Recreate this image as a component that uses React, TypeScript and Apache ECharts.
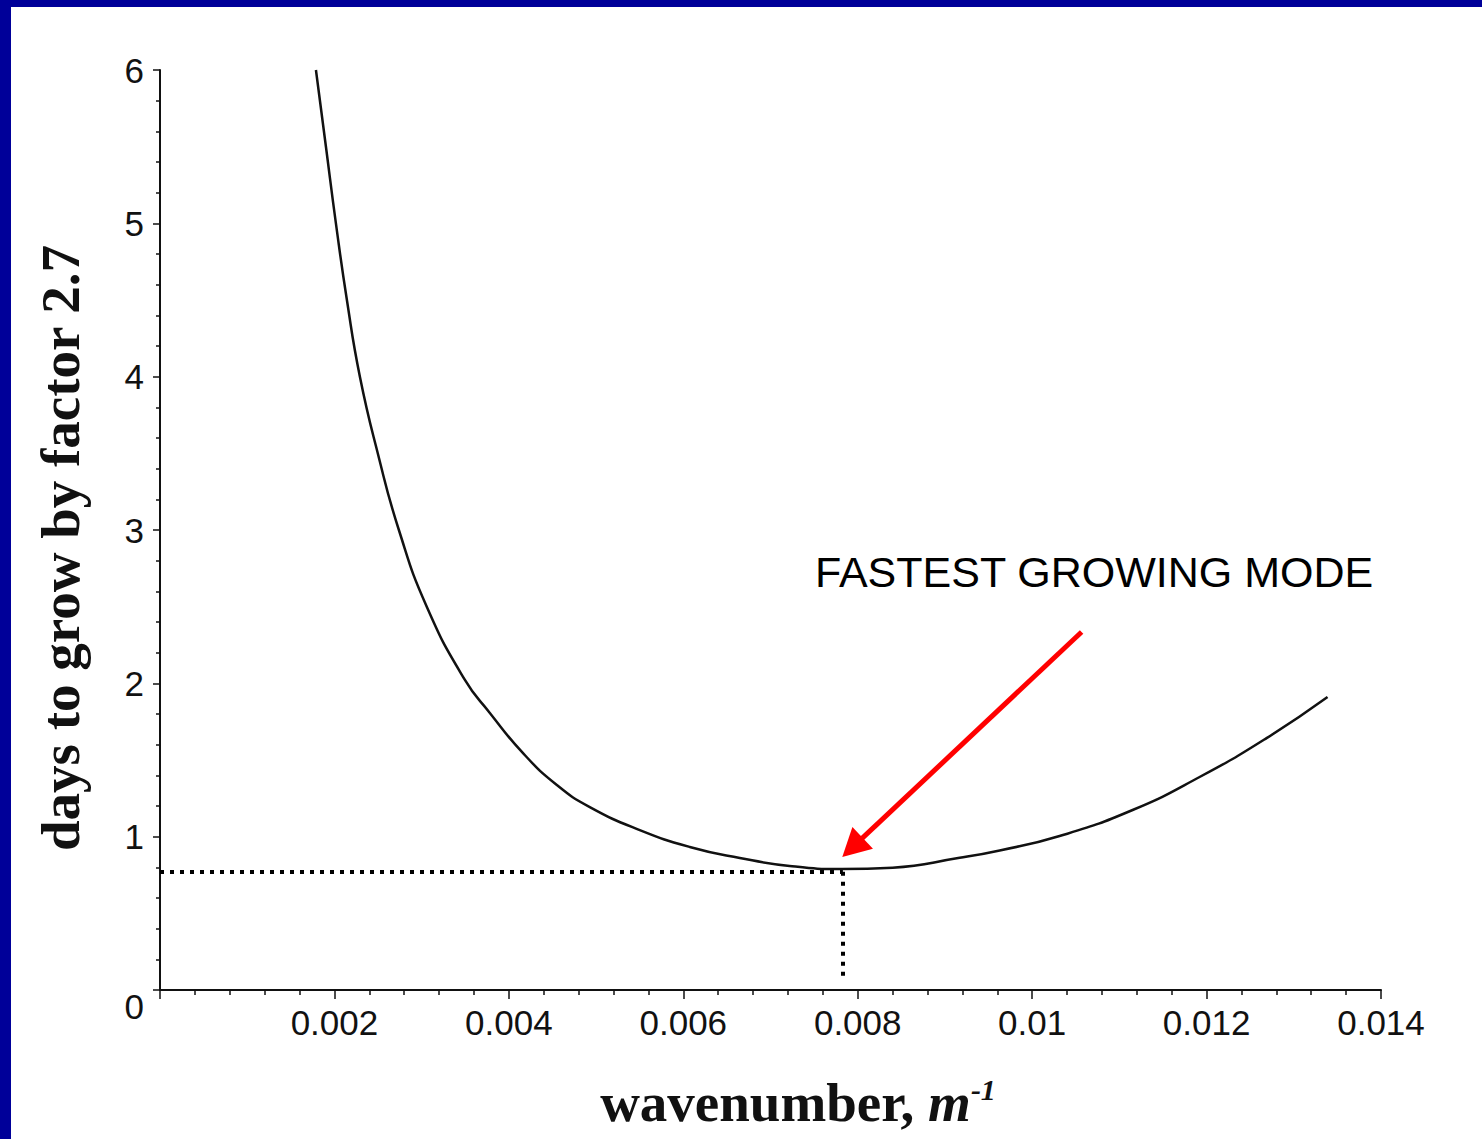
import React, { useEffect, useRef } from "react";
import * as echarts from "echarts";

// wavenumber (m^-1) and days to grow by factor 2.7
const wavenumbers = [
  0.001788, 0.001903, 0.002017, 0.002143, 0.002292, 0.002499, 0.002739, 0.00306,
  0.003496, 0.003782, 0.00416, 0.00455, 0.004928, 0.005501, 0.006074, 0.006648,
  0.00722, 0.00782, 0.0084, 0.009169, 0.009628, 0.010315, 0.011152, 0.01192,
  0.012688, 0.013387,
];
const daysToGrow = [
  6.0, 5.498, 5.0, 4.5, 4.0, 3.496, 3.0, 2.498, 2.022, 1.807, 1.546, 1.337, 1.193,
  1.043, 0.933, 0.861, 0.809, 0.789, 0.798, 0.862, 0.91, 1.004, 1.174, 1.389,
  1.643, 1.911,
];

// fastest growing mode (minimum)
const optimumK = 0.00783;
const optimumDays = 0.772;
const dropLineBottom = 0.087;

// annotation arrow (from -> head centre) in data coordinates
const arrowFrom = [0.010567, 2.335];
const arrowTo = [0.00794, 0.93];

const xTitle = "wavenumber, ";
const yTitle = "days to grow by factor 2.7";
const annotation = "FASTEST GROWING MODE";

export default function App() {
  const ref = useRef<HTMLDivElement>(null);
  useEffect(() => {
    if (!ref.current) return;
    const chart = echarts.init(ref.current, null, { renderer: "svg" });
    const curve = wavenumbers.map((k, i) => [k, daysToGrow[i]]);
    chart.setOption({
      animation: false,
      backgroundColor: "#ffffff",
      grid: { left: 160, top: 70, right: 101, bottom: 149, containLabel: false },
      xAxis: {
        type: "value",
        min: 0,
        max: 0.014,
        interval: 0.002,
        axisLine: { show: true, onZero: false, lineStyle: { color: "#111", width: 2 } },
        axisTick: { show: true, length: 9, lineStyle: { color: "#111", width: 1.5 } },
        minorTick: { show: true, splitNumber: 5, length: 5, lineStyle: { color: "#111", width: 1.5 } },
        splitLine: { show: false },
        axisLabel: {
          color: "#111",
          fontFamily: "Liberation Sans, Arial, sans-serif",
          fontSize: 35,
          margin: 15,
          formatter: (v: number) => (v === 0 ? "" : String(Number(v.toFixed(3)))),
        },
      },
      yAxis: {
        type: "value",
        min: 0,
        max: 6,
        interval: 1,
        axisLine: { show: true, lineStyle: { color: "#111", width: 2 } },
        axisTick: { show: true, length: 7, lineStyle: { color: "#111", width: 1.5 } },
        minorTick: { show: true, splitNumber: 5, length: 4, lineStyle: { color: "#111", width: 1.5 } },
        splitLine: { show: false },
        axisLabel: {
          color: "#111",
          fontFamily: "Liberation Sans, Arial, sans-serif",
          fontSize: 35,
          margin: 16,
          formatter: (v: number) => (v === 0 ? "{z|0}" : String(v)),
          rich: {
            z: {
              fontFamily: "Liberation Sans, Arial, sans-serif",
              fontSize: 35,
              color: "#111",
              padding: [32, 0, 0, 0],
            },
          },
        },
      },
      series: [
        {
          type: "line",
          data: curve,
          showSymbol: false,
          smooth: 0.5,
          lineStyle: { color: "#111", width: 2.5 },
          silent: true,
          markLine: {
            silent: true,
            symbol: ["none", "none"],
            label: { show: false },
            lineStyle: { color: "#000", width: 4, type: [4, 6], cap: "butt" },
            data: [
              [{ coord: [0, optimumDays] }, { coord: [optimumK, optimumDays] }],
              [{ coord: [optimumK, optimumDays] }, { coord: [optimumK, dropLineBottom] }],
            ],
          },
        },
        {
          type: "line",
          data: [],
          silent: true,
          markLine: {
            silent: true,
            symbol: ["none", "triangle"],
            symbolSize: [30, 28],
            label: { show: false },
            lineStyle: { color: "#ff0000", width: 5, type: "solid" },
            itemStyle: { color: "#ff0000" },
            data: [[{ coord: arrowFrom }, { coord: arrowTo }]],
          },
        },
      ],
      graphic: [
        { type: "rect", shape: { x: 0, y: 0, width: 1482, height: 7 }, style: { fill: "#000099" }, silent: true },
        { type: "rect", shape: { x: 0, y: 0, width: 11, height: 1139 }, style: { fill: "#000099" }, silent: true },
        { type: "rect", shape: { x: 156, y: 749, width: 8, height: 13 }, style: { fill: "#ffffff" }, silent: true },
        {
          type: "text",
          x: 60,
          y: 548,
          rotation: Math.PI / 2,
          style: {
            text: yTitle,
            font: "bold 55px 'Liberation Serif', 'Times New Roman', serif",
            fill: "#111",
            align: "center",
            verticalAlign: "middle",
          },
        },
        {
          type: "text",
          x: 798,
          y: 1102,
          style: {
            text: "{a|" + xTitle + "}{m|m}{s|-1}",
            align: "center",
            verticalAlign: "middle",
            rich: {
              a: { font: "bold 55px 'Liberation Serif', 'Times New Roman', serif", fill: "#111" },
              m: { font: "italic bold 55px 'Liberation Serif', 'Times New Roman', serif", fill: "#111" },
              s: {
                font: "italic bold 30px 'Liberation Serif', 'Times New Roman', serif",
                fill: "#111",
                verticalAlign: "top",
              },
            },
          },
        },
        {
          type: "text",
          x: 815,
          y: 572,
          style: {
            text: annotation,
            font: "43px 'Liberation Sans', Arial, sans-serif",
            fill: "#000",
            align: "left",
            verticalAlign: "middle",
          },
        },
      ],
    });
    return () => chart.dispose();
  }, []);
  return (
    <div
      ref={ref}
      style={{ position: "absolute", left: 0, top: 0, width: 1482, height: 1139 }}
    />
  );
}
